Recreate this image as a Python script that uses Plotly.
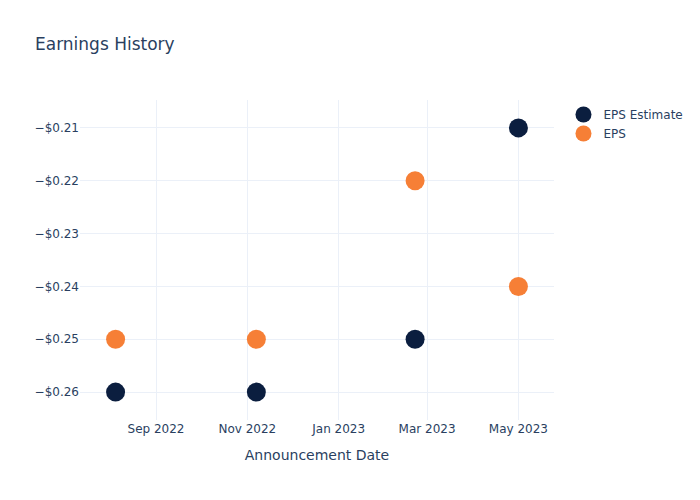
import plotly.graph_objects as go

dates = ["2022-08-05", "2022-11-07", "2023-02-21", "2023-05-01"]
eps_estimate = [-0.26, -0.26, -0.25, -0.21]
eps_actual = [-0.25, -0.25, -0.22, -0.24]

fig = go.Figure()
fig.add_trace(go.Scatter(x=dates, y=eps_estimate, mode="markers", name="EPS Estimate",
                         marker=dict(color="#0b1e3f", size=19)))
fig.add_trace(go.Scatter(x=dates, y=eps_actual, mode="markers", name="EPS",
                         marker=dict(color="#f67f36", size=19)))
fig.update_layout(
    template="plotly_white",
    width=700, height=500,
    font=dict(family="DejaVu Sans"),
    title=dict(text="Earnings History"),
    xaxis=dict(title=dict(text="Announcement Date")),
    yaxis=dict(tickformat="$.2f"),
)
fig.write_html("out.html")
